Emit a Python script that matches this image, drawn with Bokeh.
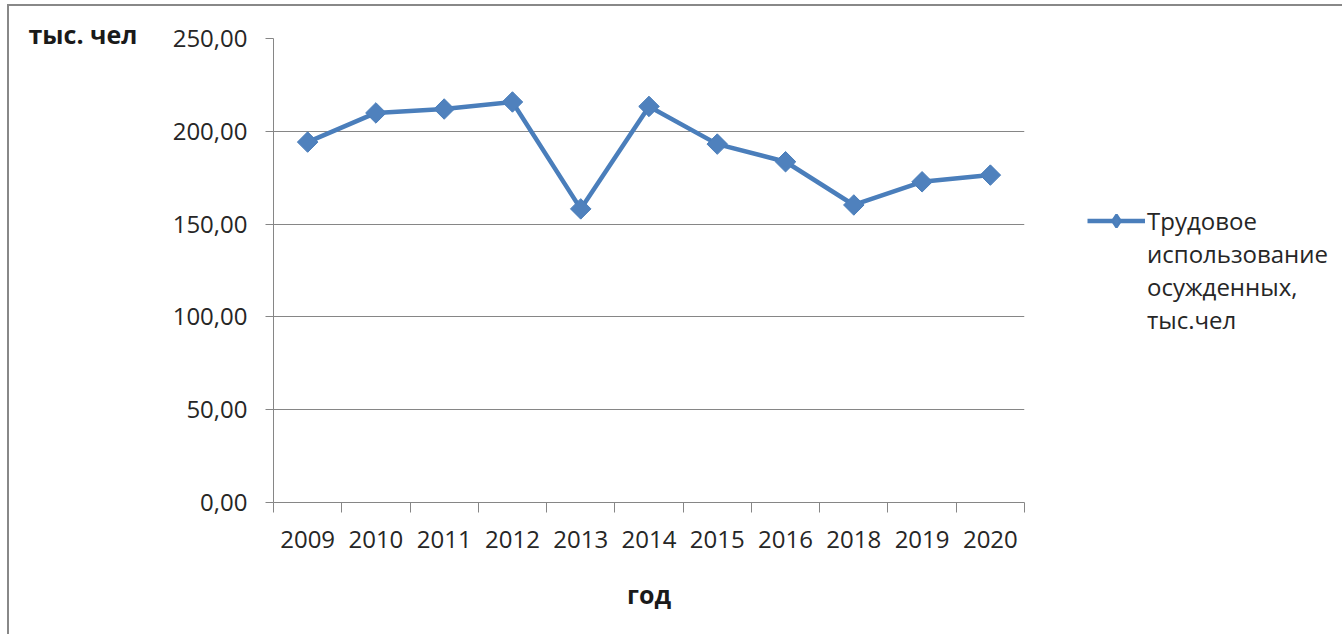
from bokeh.plotting import figure
from bokeh.models import (Range1d, LinearAxis, FixedTicker, Title,
                          Legend, LegendItem, ColumnDataSource)
from bokeh.embed import file_html
from bokeh.resources import INLINE
import math

# ---- data ----
years = ["2009", "2010", "2011", "2012", "2013", "2014", "2015", "2016", "2018", "2019", "2020"]
values = [194.2, 209.9, 212.0, 215.8, 158.2, 213.4, 193.1, 183.6, 160.3, 172.8, 176.4]
y_ticks = [0, 50, 100, 150, 200, 250]
y_tick_labels = ["0,00", "50,00", "100,00", "150,00", "200,00", "250,00"]
series_lines = ["Трудовое", "использование", "осужденных,", "тыс.чел"]
y_title = "тыс. чел"
x_title = "год"

FONT = "Open Sans"
LINE_COLOR = "#4A7EBB"
MARK_COLOR = "#4F81BD"
AXIS_COLOR = "#868686"
TEXT_COLOR = "#262626"

n = len(years)
centers = [i + 0.5 for i in range(n)]    # category slots, Excel-style
edges = list(range(n + 1))

p = figure(x_range=Range1d(0, n), y_range=Range1d(0, 250),
           width=1325, height=628,
           frame_width=751, frame_height=464,
           min_border_left=264, min_border_top=32, min_border_bottom=132, min_border_right=310,
           x_axis_location=None, y_axis_location=None,
           output_backend="svg", toolbar_location=None)
p.outline_line_color = None
p.background_fill_color = "white"
p.border_fill_color = "white"
p.styles = {"margin-left": "9px", "margin-top": "6px",
            "outline": "2px solid #888888", "outline-offset": "0px"}

# grids
p.xgrid.visible = False
p.ygrid.ticker = FixedTicker(ticks=y_ticks[1:])
p.ygrid.grid_line_color = AXIS_COLOR
p.ygrid.grid_line_width = 1

# y axis
yax = LinearAxis(ticker=FixedTicker(ticks=y_ticks),
                 major_label_overrides={t: l for t, l in zip(y_ticks, y_tick_labels)})
yax.axis_line_color = AXIS_COLOR
yax.major_tick_line_color = AXIS_COLOR
yax.major_tick_out = 8
yax.major_tick_in = 0
yax.minor_tick_line_color = None
yax.major_label_standoff = 18
yax.major_label_text_font = FONT
yax.major_label_text_font_size = "24px"
yax.major_label_text_color = TEXT_COLOR
p.add_layout(yax, "left")

# x axis: boundary ticks (Excel style)
tax = LinearAxis(ticker=FixedTicker(ticks=edges),
                 major_label_overrides={e: "" for e in edges})
tax.axis_line_color = AXIS_COLOR
tax.major_tick_line_color = AXIS_COLOR
tax.major_tick_out = 10
tax.major_tick_in = 0
tax.minor_tick_line_color = None
tax.major_label_text_font_size = "1px"
tax.major_label_standoff = 0
p.add_layout(tax, "below")

# x axis: category labels
xax = LinearAxis(ticker=FixedTicker(ticks=centers),
                 major_label_overrides={c: y for c, y in zip(centers, years)})
xax.axis_line_color = None
xax.major_tick_line_color = None
xax.minor_tick_line_color = None
xax.major_label_standoff = 12
xax.major_label_text_font = FONT
xax.major_label_text_font_size = "24px"
xax.major_label_text_color = TEXT_COLOR
xax.axis_label = x_title
xax.axis_label_text_font = FONT
xax.axis_label_text_font_size = "25px"
xax.axis_label_text_font_style = "bold"
xax.axis_label_text_color = "#1a1a1a"
xax.axis_label_standoff = 26
p.add_layout(xax, "below")

# series
src = ColumnDataSource(dict(x=centers, y=values, year=years))
lr = p.line("x", "y", source=src, line_color=LINE_COLOR, line_width=4.5)
mr = p.scatter("x", "y", source=src, marker="square", size=14.5, angle=math.pi / 4,
               fill_color=MARK_COLOR, line_color=LINE_COLOR, line_width=1)

# legend swatch helpers (NaN data: nothing drawn in the plot area)
nan_src = ColumnDataSource(dict(x=[float("nan")], y=[float("nan")]))
leg_marker = p.scatter("x", "y", source=nan_src, marker="diamond", size=10,
                       fill_color=MARK_COLOR, line_color=LINE_COLOR, line_width=2.5)
blank = p.line("x", "y", source=nan_src, line_alpha=0)

items = [LegendItem(label=series_lines[0], renderers=[lr, leg_marker])]
items += [LegendItem(label=t, renderers=[blank]) for t in series_lines[1:]]
legend = Legend(items=items, location="center_left", orientation="vertical")
legend.border_line_color = None
legend.background_fill_alpha = 0
legend.padding = 0
legend.margin = 63
legend.spacing = 0
legend.glyph_width = 58
legend.glyph_height = 31
legend.label_standoff = 2
legend.label_height = 31
legend.label_text_font = FONT
legend.label_text_font_size = "24px"
legend.label_text_color = TEXT_COLOR
p.add_layout(legend, "right")

# y title at top-left
p.add_layout(Title(text=y_title, align="left", offset=-245, standoff=-25,
                   text_font=FONT, text_font_size="25px", text_font_style="bold",
                   text_color="#1a1a1a"), "above")

open("out.html", "w").write(file_html(p, INLINE))
